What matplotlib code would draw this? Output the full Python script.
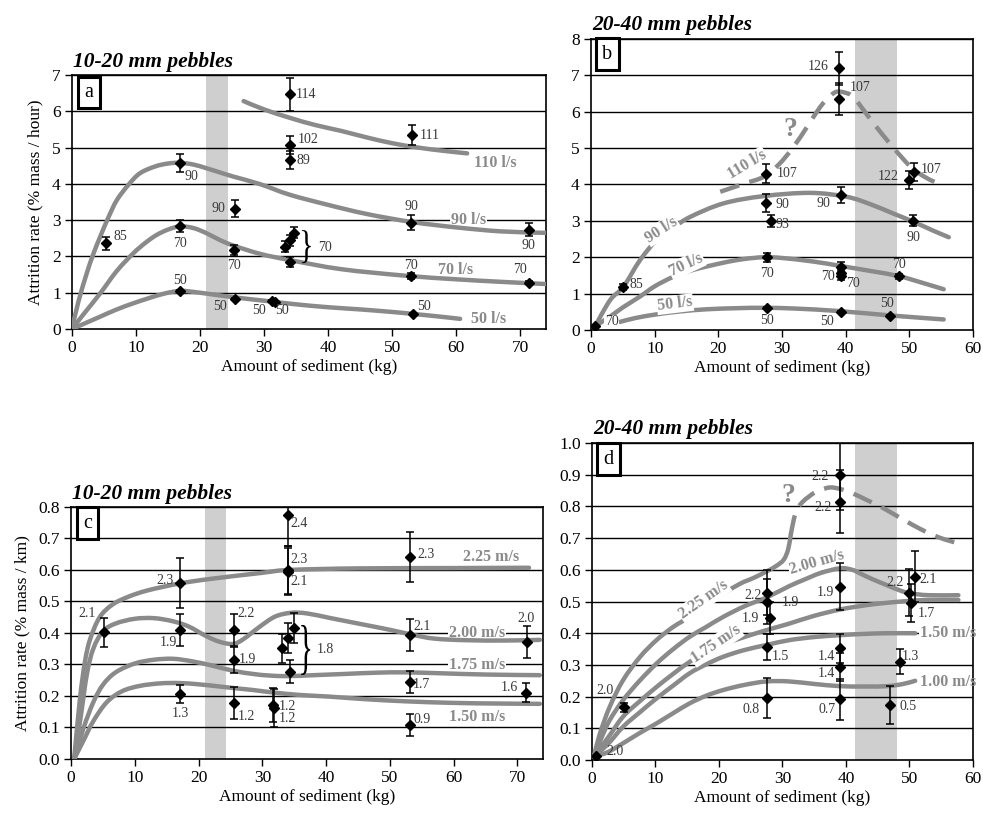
import matplotlib
matplotlib.use('Agg')
import matplotlib.pyplot as plt
from matplotlib.ticker import FormatStrFormatter
from matplotlib.path import Path
from matplotlib.patches import PathPatch
from matplotlib.textpath import TextPath
from matplotlib.font_manager import FontProperties
from matplotlib.transforms import Affine2D, ScaledTranslation

plt.rcParams['font.family'] = ['Liberation Serif', 'DejaVu Serif']

CURVE = '#8a8a8a'
NUM = '#383838'
BAND = '#cfcfcf'

# ---------------- Panel a (10-20 mm, % mass / hour) ----------------
pa_x = [5.3, 16.9, 16.9, 16.9, 25.4, 25.3, 25.5, 31.2, 31.7, 34.1, 34.1, 34.1, 53.1, 53.0, 53.0, 53.2, 71.3, 71.3,
        33.3, 34.0, 34.6, 34.1]
pa_y = [2.36, 4.58, 2.83, 1.05, 3.32, 2.18, 0.82, 0.77, 0.74, 6.47, 5.07, 4.66, 5.34, 2.93, 1.46, 0.41, 2.73, 1.28,
        2.27, 2.45, 2.65, 1.85]
pa_err = [0.17, 0.25, 0.17, 0.03, 0.23, 0.14, 0.03, 0.03, 0.03, 0.45, 0.25, 0.25, 0.28, 0.2, 0.08, 0.03, 0.18, 0.04,
          0.15, 0.15, 0.15, 0.13]
pa_lbl = ['85', '90', '70', '50', '90', '70', '50', '50', '50', '114', '102', '89', '111', '90', '70', '50', '90', '70']
pa_tx = [7.5, 18.7, 16.9, 16.9, 22.9, 25.3, 23.1, 29.2, 32.8, 36.6, 36.9, 36.1, 55.8, 53.0, 53.0, 54.9, 71.3, 70.0]
pa_ty = [2.54, 4.2, 2.37, 1.35, 3.32, 1.76, 0.61, 0.52, 0.5, 6.45, 5.22, 4.64, 5.34, 3.37, 1.76, 0.61, 2.29, 1.64]

a110_x = [26.8, 30, 34, 38, 42, 46, 50, 54, 58, 61.7]
a110_y = [6.28, 6.05, 5.82, 5.62, 5.46, 5.28, 5.12, 5.0, 4.91, 4.84]
a90_x = [0, 1, 2.3, 3.3, 4.4, 5.7, 7, 8.8, 10.6, 13, 15, 16.9, 19, 21, 23, 25.2, 29.4, 34, 40, 46, 53, 60, 67, 74]
a90_y = [0, 0.75, 1.53, 2.05, 2.54, 3.08, 3.55, 3.97, 4.29, 4.48, 4.56, 4.58, 4.53, 4.43, 4.32, 4.2, 3.99, 3.7, 3.42,
         3.17, 2.95, 2.8, 2.69, 2.65]
a70_x = [0, 2, 4.4, 7, 9.6, 11.5, 13.2, 15, 16.9, 19, 21, 23, 25.2, 29.4, 34, 42, 52, 60, 67, 74]
a70_y = [0, 0.45, 0.98, 1.6, 2.09, 2.38, 2.59, 2.74, 2.83, 2.78, 2.64, 2.46, 2.3, 2.07, 1.9, 1.65, 1.47, 1.37, 1.3, 1.24]
a50_x = [0, 2.2, 4.4, 7, 9.6, 12, 14.5, 17, 20, 25, 30, 35, 40, 45, 50, 53, 57, 60.6]
a50_y = [0, 0.17, 0.34, 0.54, 0.71, 0.85, 0.98, 1.05, 1.0, 0.88, 0.78, 0.68, 0.6, 0.54, 0.47, 0.42, 0.35, 0.28]

# ---------------- Panel b (20-40 mm, % mass / hour) ----------------
pb_x = [0.63, 5.1, 38.9, 38.9, 27.5, 27.5, 28.25, 39.2, 50.0, 50.8, 50.6, 27.6, 39.2, 39.2, 39.2, 48.4, 27.6, 39.3, 47.0]
pb_y = [0.11, 1.19, 7.19, 6.34, 4.3, 3.5, 3.0, 3.71, 4.12, 4.35, 3.0, 2.0, 1.74, 1.57, 1.48, 1.48, 0.6, 0.49, 0.38]
pb_err = [0, 0.08, 0.46, 0.44, 0.25, 0.25, 0.17, 0.22, 0.25, 0.25, 0.15, 0.12, 0.12, 0.1, 0.1, 0.07, 0.03, 0.03, 0.03]
pb_lbl = ['70', '85', '126', '107', '107', '90', '93', '90', '122', '107', '90', '70', '', '70', '70', '70', '50', '50',
          '50']
pb_tx = [3.25, 7.2, 35.7, 42.3, 30.8, 30.0, 30.0, 36.5, 46.7, 53.4, 50.6, 27.6, 0, 37.3, 41.2, 48.4, 27.6, 37.0, 46.5]
pb_ty = [0.23, 1.24, 7.25, 6.67, 4.29, 3.46, 2.9, 3.48, 4.23, 4.4, 2.55, 1.56, 0, 1.48, 1.28, 1.79, 0.27, 0.23, 0.73]

b110_x = [20.3, 24, 27.1, 29.5, 31.8, 34, 36, 37.5, 38.6, 40, 41.2, 42.8, 44.4, 47.3, 50.2, 52.5, 55.1]
b110_y = [3.8, 4.02, 4.21, 4.55, 5.03, 5.6, 6.13, 6.42, 6.55, 6.52, 6.41, 6.05, 5.68, 5.05, 4.49, 4.2, 3.98]
b90_x = [0.6, 3, 5.1, 7.7, 10.3, 13, 15.6, 20.8, 27.1, 34.4, 40.2, 44, 47.5, 50.6, 53.5, 56.2]
b90_y = [0.09, 0.82, 1.19, 1.92, 2.47, 2.82, 3.11, 3.48, 3.68, 3.77, 3.66, 3.45, 3.2, 2.98, 2.75, 2.55]
b70_x = [0.6, 3, 5, 7.7, 10, 12.9, 16, 20.8, 24, 27.1, 30, 35, 39.2, 44, 48.4, 52, 55.4]
b70_y = [0.1, 0.37, 0.62, 0.92, 1.2, 1.46, 1.65, 1.85, 1.95, 2.0, 1.98, 1.88, 1.76, 1.62, 1.48, 1.3, 1.12]
b50_x = [4.5, 7, 10.3, 14, 18.2, 23, 27.1, 32, 39, 47, 55.4]
b50_y = [0.22, 0.33, 0.43, 0.51, 0.57, 0.6, 0.61, 0.59, 0.52, 0.4, 0.29]

# ---------------- Panel c (10-20 mm, % mass / km) ----------------
pc_x = [5.2, 17.1, 17.1, 17.1, 25.6, 25.6, 25.6, 34.0, 34.1, 34.1, 53.2, 53.2, 53.2, 53.2, 31.7, 31.8, 71.5, 71.4,
        33.1, 34.1, 34.9, 34.3]
pc_y = [0.402, 0.558, 0.41, 0.206, 0.41, 0.314, 0.177, 0.775, 0.6, 0.595, 0.642, 0.394, 0.245, 0.108, 0.171, 0.161,
        0.372, 0.21, 0.351, 0.383, 0.415, 0.277]
pc_err = [0.047, 0.08, 0.05, 0.028, 0.05, 0.04, 0.05, 0.1, 0.075, 0.075, 0.08, 0.05, 0.034, 0.036, 0.053, 0.06, 0.05,
          0.03, 0.045, 0.048, 0.048, 0.037]
pc_lbl = ['2.1', '2.3', '1.9', '1.3', '2.2', '1.9', '1.2', '2.4', '2.3', '2.1', '2.3', '2.1', '1.7', '0.9', '1.2', '1.2',
          '2.0', '1.6']
pc_tx = [2.5, 14.7, 15.2, 17.1, 27.5, 27.7, 27.5, 35.8, 35.8, 35.8, 55.7, 55.1, 54.9, 55.1, 34.0, 34.0, 71.3, 68.7]
pc_ty = [0.462, 0.568, 0.37, 0.145, 0.462, 0.316, 0.134, 0.746, 0.632, 0.563, 0.648, 0.422, 0.235, 0.124, 0.168, 0.129,
         0.447, 0.228]

c225_x = [0.5, 1.4, 2.2, 3, 4.5, 6.5, 9, 12, 17, 22, 29.6, 34.2, 45, 60, 71.8]
c225_y = [0, 0.19, 0.31, 0.38, 0.45, 0.49, 0.515, 0.535, 0.557, 0.572, 0.59, 0.6, 0.605, 0.606, 0.607]
c200_x = [0.5, 1.5, 2.5, 3.5, 5, 7, 10, 13, 16, 18.5, 21.2, 23.3, 25.4, 27, 29.6, 32, 34.5, 37, 40.5, 45, 50, 53.6, 57,
          62, 68, 73.5]
c200_y = [0, 0.13, 0.27, 0.35, 0.405, 0.43, 0.445, 0.447, 0.437, 0.42, 0.39, 0.372, 0.365, 0.38, 0.42, 0.452, 0.464,
          0.462, 0.448, 0.43, 0.41, 0.394, 0.382, 0.377, 0.376, 0.378]
c175_x = [0.5, 2, 3.5, 5, 7, 10, 13, 16, 19, 22, 25.4, 28.5, 31, 34, 38, 43, 48, 52.5, 58, 65, 73.5]
c175_y = [0, 0.1, 0.18, 0.235, 0.275, 0.303, 0.315, 0.318, 0.31, 0.297, 0.28, 0.27, 0.265, 0.263, 0.266, 0.27, 0.274,
          0.275, 0.272, 0.268, 0.266]
c150_x = [0.5, 2, 3.5, 5.6, 8, 10.8, 14, 17, 20, 23.3, 26, 28.5, 31.7, 36, 40.5, 46, 52.5, 60, 67, 73.5]
c150_y = [0, 0.06, 0.12, 0.18, 0.215, 0.232, 0.24, 0.241, 0.237, 0.23, 0.224, 0.219, 0.211, 0.203, 0.198, 0.19, 0.183,
          0.178, 0.176, 0.175]

# ---------------- Panel d (20-40 mm, % mass / km) ----------------
pd_x = [0.63, 5.0, 27.5, 27.6, 28.1, 27.5, 27.5, 39.1, 39.1, 39.1, 39.1, 39.1, 39.1, 50.0, 50.9, 50.3, 48.5, 46.9]
pd_y = [0.013, 0.166, 0.528, 0.5, 0.447, 0.357, 0.195, 0.9, 0.815, 0.547, 0.352, 0.294, 0.191, 0.528, 0.578, 0.494,
        0.31, 0.173]
pd_err = [0, 0.015, 0.07, 0.07, 0.05, 0.04, 0.063, 0.11, 0.1, 0.075, 0.045, 0.045, 0.065, 0.075, 0.08, 0.06, 0.04, 0.06]
pd_lbl = ['2.0', '2.0', '2.2', '1.9', '1.9', '1.5', '0.8', '2.2', '2.2', '1.9', '1.4', '1.4', '0.7', '2.2', '2.1', '1.7',
          '1.3', '0.5']
pd_tx = [3.6, 2.0, 25.4, 31.2, 24.9, 29.6, 25.1, 35.9, 36.4, 36.7, 37.0, 37.0, 37.0, 47.7, 53.0, 52.7, 50.1, 49.8]
pd_ty = [0.026, 0.22, 0.52, 0.496, 0.447, 0.326, 0.16, 0.896, 0.797, 0.528, 0.326, 0.273, 0.158, 0.56, 0.568, 0.463,
         0.326, 0.168]

d225_x = [0.3, 1.2, 2.8, 4.9, 7.6, 10.2, 12.8, 15.4, 18, 20.7, 23.3, 25.5, 27.5, 29, 30.2, 30.9, 31.3]
d225_y = [0.01, 0.08, 0.168, 0.252, 0.326, 0.379, 0.42, 0.452, 0.49, 0.525, 0.556, 0.575, 0.595, 0.612, 0.632, 0.665,
          0.71]
d225q_x = [31.3, 31.8, 32.3, 33.2, 34.1, 35, 36, 37.5, 39.1, 41.2, 43.3, 45.4, 47.5, 49.6, 51.6, 53.7, 55.7, 57.7]
d225q_y = [0.71, 0.76, 0.792, 0.815, 0.83, 0.843, 0.852, 0.86, 0.855, 0.84, 0.82, 0.8, 0.776, 0.752, 0.73, 0.71, 0.695,
           0.684]
d200_x = [0.3, 1.5, 2.8, 4.9, 7.5, 10.2, 12.8, 15.4, 18, 20.7, 24, 27.5, 31, 33.3, 36, 39.1, 41, 42.2, 44, 46.4, 48.5,
          50.1, 53, 57.7]
d200_y = [0.01, 0.07, 0.126, 0.189, 0.25, 0.305, 0.35, 0.389, 0.42, 0.452, 0.485, 0.513, 0.548, 0.568, 0.59, 0.605,
          0.6, 0.589, 0.572, 0.552, 0.535, 0.526, 0.52, 0.52]
d175_x = [0.3, 2.5, 4.9, 7.5, 10.2, 12.8, 15.4, 18, 20.7, 24, 27.5, 31, 35, 39.1, 43, 46.4, 50, 53, 57.7]
d175_y = [0.01, 0.07, 0.137, 0.185, 0.231, 0.272, 0.31, 0.34, 0.365, 0.388, 0.41, 0.43, 0.455, 0.475, 0.488, 0.496,
          0.502, 0.505, 0.505]
d150_x = [0.3, 2.5, 4.9, 7.5, 10.2, 12.8, 15.4, 18, 20.7, 24, 27.5, 31, 35, 39.1, 43, 46.4, 50.9]
d150_y = [0.01, 0.05, 0.105, 0.15, 0.195, 0.235, 0.274, 0.302, 0.326, 0.347, 0.363, 0.378, 0.388, 0.394, 0.398, 0.4,
          0.4]
d100_x = [0.3, 2.5, 4.9, 7.5, 10.2, 12.8, 15.4, 18, 20.7, 24, 27.5, 31, 35, 39.1, 43, 46.5, 49, 50.9]
d100_y = [0.01, 0.025, 0.053, 0.085, 0.116, 0.148, 0.179, 0.203, 0.221, 0.237, 0.248, 0.248, 0.24, 0.233, 0.232,
          0.233, 0.24, 0.25]

fig = plt.figure(figsize=(9.83, 8.14), dpi=100)
ax_a = fig.add_axes([0.0732, 0.5958, 0.4822, 0.3121])
ax_b = fig.add_axes([0.6012, 0.5946, 0.3886, 0.3575])
ax_c = fig.add_axes([0.0722, 0.0676, 0.4802, 0.3096])
ax_d = fig.add_axes([0.6022, 0.0663, 0.3876, 0.3894])


def setup(ax, xmax, ymax, ystep, fmt, band, title, letter, lpos, ylabel=None):
    ax.set_xlim(0, xmax)
    ax.set_ylim(0, ymax)
    ax.set_xticks(range(0, int(xmax) + 1, 10))
    n = int(round(ymax / ystep))
    yt = [i * ystep for i in range(n + 1)]
    ax.set_yticks(yt)
    ax.yaxis.set_major_formatter(FormatStrFormatter(fmt))
    for v in yt[1:]:
        ax.axhline(v, color='black', lw=1.0, zorder=1)
    ax.axvspan(band[0], band[1], color=BAND, lw=0, zorder=0.5)
    ax.tick_params(direction='out', length=5, width=1, labelsize=12.5, pad=3)
    for s in ax.spines.values():
        s.set_linewidth(1.2)
        s.set_color('black')
    ax.set_xlabel('Amount of sediment (kg)', fontsize=12.5, labelpad=2)
    if ylabel:
        ax.set_ylabel(ylabel, fontsize=12.5, labelpad=6)
    ax.text(0.003, 1.012, title, transform=ax.transAxes, ha='left', va='bottom',
            fontsize=15.5, fontweight='bold', fontstyle='italic')
    ax.text(lpos[0], lpos[1], letter, transform=ax.transAxes, ha='center', va='center', fontsize=14.5,
            bbox=dict(boxstyle='square,pad=0.32', fc='white', ec='black', lw=2.2), zorder=8)


def points(ax, x, y, err, lbl, tx, ty):
    ax.errorbar(x, y, yerr=err, fmt='D', ms=4.8, color='black', ecolor='black', elinewidth=1.1,
                capsize=3.2, capthick=1.1, zorder=6)
    for s, px, py in zip(lbl, tx, ty):
        if s:
            ax.text(px, py, s, ha='center', va='center', fontsize=10, color=NUM, zorder=7)


def smooth_path(x, y):
    pts = list(zip(x, y))
    n = len(pts)
    verts = [pts[0]]
    codes = [Path.MOVETO]
    for i in range(n - 1):
        p0 = pts[i - 1] if i > 0 else pts[i]
        p1 = pts[i]
        p2 = pts[i + 1]
        p3 = pts[i + 2] if i + 2 < n else pts[i + 1]
        c1 = (p1[0] + (p2[0] - p0[0]) / 6.0, p1[1] + (p2[1] - p0[1]) / 6.0)
        c2 = (p2[0] - (p3[0] - p1[0]) / 6.0, p2[1] - (p3[1] - p1[1]) / 6.0)
        verts += [c1, c2, p2]
        codes += [Path.CURVE4] * 3
    return Path(verts, codes)


def curve(ax, x, y, dashed=False):
    ls = (0, (4.5, 2.4)) if dashed else '-'
    patch = PathPatch(smooth_path(x, y), fill=False, edgecolor=CURVE, lw=3.2, linestyle=ls,
                      capstyle='butt' if dashed else 'round', joinstyle='round', zorder=3)
    ax.add_patch(patch)


def clabel(ax, x, y, s, rot=0, ha='center', hide=True, fs=11.5):
    kw = dict(rotation=rot, ha=ha, va='center', fontsize=fs, fontweight='bold', rotation_mode='anchor')
    if hide:
        ax.text(x, y, s, color=CURVE, bbox=dict(fc='white', ec='none', pad=0.6), zorder=4, clip_on=False, **kw)
    else:
        ax.text(x, y, s, color='white', bbox=dict(fc='white', ec='none', pad=0.6), zorder=1.5, clip_on=False, **kw)
        ax.text(x, y, s, color=CURVE, zorder=5, clip_on=False, **kw)


def brace(ax, x, y, w_px, h_px):
    tp = TextPath((0, 0), '}', size=1, prop=FontProperties(family='Liberation Serif'))
    bb = tp.get_extents()
    tr = (Affine2D().translate(-(bb.x0 + bb.x1) / 2, -(bb.y0 + bb.y1) / 2)
          .scale(w_px / bb.width, h_px / bb.height)
          + ScaledTranslation(x, y, ax.transData))
    ax.add_patch(PathPatch(tp, transform=tr, fc='black', ec='none', zorder=7))


# ---- panel a
setup(ax_a, 74, 7, 1, '%d', (21, 24.3), '10-20 mm pebbles', 'a', (0.036, 0.931),
      'Attrition rate (% mass / hour)')
for cx, cy in [(a110_x, a110_y), (a90_x, a90_y), (a70_x, a70_y), (a50_x, a50_y)]:
    curve(ax_a, cx, cy)
clabel(ax_a, 62.7, 4.57, '110 l/s', ha='left', hide=False)
clabel(ax_a, 59.2, 3.0, '90 l/s', ha='left', hide=False)
clabel(ax_a, 57.2, 1.63, '70 l/s', ha='left', hide=False)
clabel(ax_a, 62.3, 0.27, '50 l/s', ha='left', hide=False)
points(ax_a, pa_x, pa_y, pa_err, pa_lbl, pa_tx, pa_ty)
brace(ax_a, 36.6, 2.27, 9, 33)
ax_a.text(39.5, 2.25, '70', ha='center', va='center', fontsize=10, color=NUM, zorder=7)

# ---- panel b
setup(ax_b, 60, 8, 1, '%d', (41.5, 48.0), '20-40 mm pebbles', 'b', (0.043, 0.948))
curve(ax_b, b110_x, b110_y, dashed=True)
for cx, cy in [(b90_x, b90_y), (b70_x, b70_y), (b50_x, b50_y)]:
    curve(ax_b, cx, cy)
clabel(ax_b, 24.5, 4.55, '110 l/s', rot=31)
clabel(ax_b, 11.1, 2.75, '90 l/s', rot=33)
clabel(ax_b, 15.0, 1.79, '70 l/s', rot=25)
clabel(ax_b, 13.2, 0.71, '50 l/s', rot=7)
ax_b.text(31.3, 5.5, '?', ha='center', va='center', fontsize=20, fontweight='bold', color=CURVE, zorder=4)
points(ax_b, pb_x, pb_y, pb_err, [], [], [])
for s, px, py in zip(pb_lbl, pb_tx, pb_ty):
    if s:
        ax_b.text(px, py, s, ha='center', va='center', fontsize=10, color=NUM, zorder=7,
                  bbox=dict(fc='white', ec='none', pad=0.3) if px < 5 else None)

# ---- panel c
setup(ax_c, 74, 0.8, 0.1, '%.1f', (21, 24.3), '10-20 mm pebbles', 'c', (0.035, 0.935),
      'Attrition rate (% mass / km)')
for cx, cy in [(c225_x, c225_y), (c200_x, c200_y), (c175_x, c175_y), (c150_x, c150_y)]:
    curve(ax_c, cx, cy)
clabel(ax_c, 61.4, 0.642, '2.25 m/s', ha='left', hide=False)
clabel(ax_c, 59.2, 0.40, '2.00 m/s', ha='left', hide=False)
clabel(ax_c, 59.2, 0.298, '1.75 m/s', ha='left', hide=False)
clabel(ax_c, 59.2, 0.134, '1.50 m/s', ha='left', hide=False)
points(ax_c, pc_x, pc_y, pc_err, pc_lbl, pc_tx, pc_ty)
brace(ax_c, 36.8, 0.346, 9, 50)
ax_c.text(39.9, 0.346, '1.8', ha='center', va='center', fontsize=10, color=NUM, zorder=7)

# ---- panel d
setup(ax_d, 60, 1.0, 0.1, '%.1f', (41.5, 48.0), '20-40 mm pebbles', 'd', (0.044, 0.949))
curve(ax_d, d225q_x, d225q_y, dashed=True)
for cx, cy in [(d225_x, d225_y), (d200_x, d200_y), (d175_x, d175_y), (d150_x, d150_y), (d100_x, d100_y)]:
    curve(ax_d, cx, cy)
clabel(ax_d, 17.6, 0.505, '2.25 m/s', rot=35)
clabel(ax_d, 19.5, 0.365, '1.75 m/s', rot=34)
clabel(ax_d, 35.4, 0.622, '2.00 m/s', rot=16, hide=False)
clabel(ax_d, 51.7, 0.40, '1.50 m/s', ha='left', hide=False)
clabel(ax_d, 51.7, 0.247, '1.00 m/s', ha='left', hide=False)
ax_d.text(30.9, 0.836, '?', ha='center', va='center', fontsize=20, fontweight='bold', color=CURVE, zorder=4)
points(ax_d, pd_x, pd_y, pd_err, pd_lbl, pd_tx, pd_ty)

fig.savefig('out.png', dpi=100)
